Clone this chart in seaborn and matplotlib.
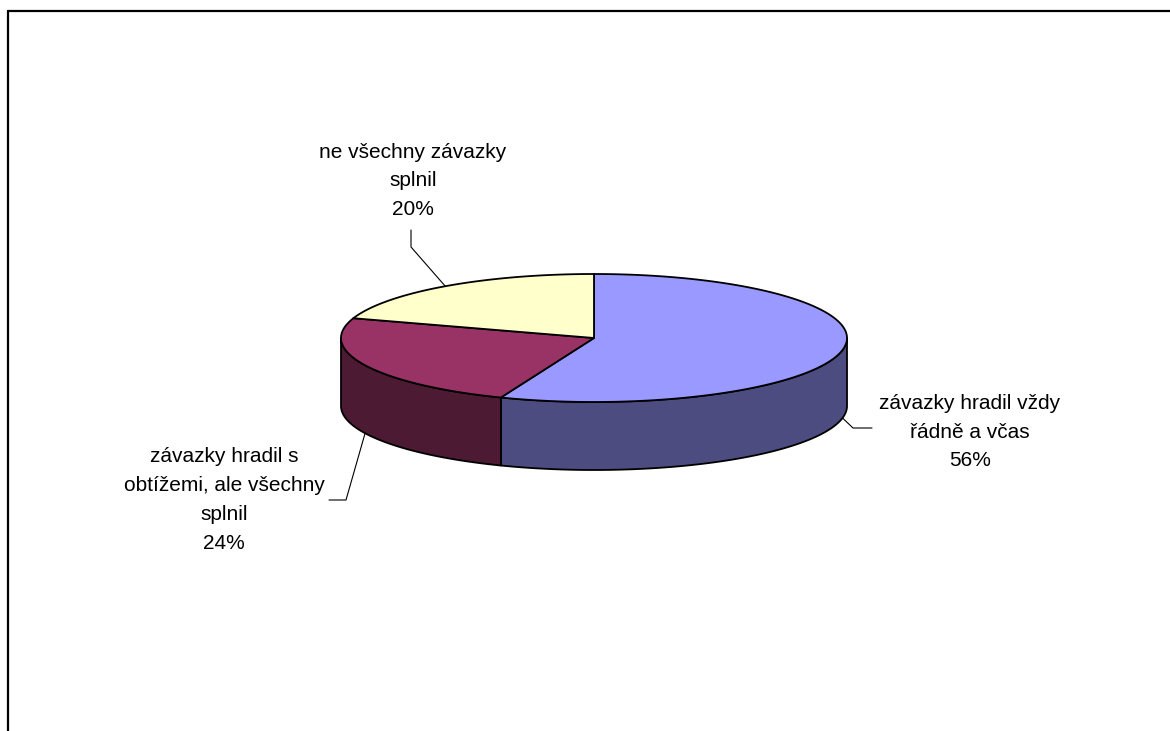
import numpy as np
import matplotlib
matplotlib.use("Agg")
import matplotlib.pyplot as plt
import seaborn as sns
from matplotlib.patches import Polygon
from matplotlib.lines import Line2D

# ---- data ----
categories = ["závazky hradil vždy\nřádně a včas",
              "závazky hradil s\nobtížemi, ale všechny\nsplnil",
              "ne všechny závazky\nsplnil"]
values = [56, 24, 20]
top_colors = ["#9999FF", "#993366", "#FFFFCC"]
side_colors = ["#4C4C80", "#4D1A33", "#80806A"]

# ---- layout ----
sns.set_theme(style="white")
plt.rcParams['font.family'] = ['Liberation Sans', 'DejaVu Sans']

W, H = 1170, 731
fig = plt.figure(figsize=(W / 100, H / 100), dpi=100)
ax = fig.add_axes([0, 0, 1, 1])
ax.set_xlim(0, W)
ax.set_ylim(H, 0)
ax.axis('off')

cx, cy, a, b, depth = 594, 338, 253, 64, 68
lw = 1.3

fr = np.array(values, dtype=float) / sum(values)
ends = 90 - 360 * np.cumsum(fr)
starts = ends + 360 * fr


def ell(t, dy=0.0):
    tr = np.deg2rad(t)
    return cx + a * np.cos(tr), cy - b * np.sin(tr) + dy


# side walls (front half: angles in [-180, 0] modulo 360)
for s, e, col in zip(starts, ends, side_colors):
    for off in (-360, 0, 360):
        lo = max(e, -180 + off)
        hi = min(s, 0 + off)
        if hi > lo:
            t = np.linspace(lo, hi, 200)
            xs, ys = ell(t)
            xb, yb = ell(t[::-1], depth)
            poly = np.column_stack([np.r_[xs, xb], np.r_[ys, yb]])
            ax.add_patch(Polygon(poly, closed=True, facecolor=col,
                                 edgecolor='black', lw=lw, joinstyle='round'))

# top faces
for s, e, col in zip(starts, ends, top_colors):
    t = np.linspace(e, s, 300)
    xs, ys = ell(t)
    poly = np.column_stack([np.r_[cx, xs], np.r_[cy, ys]])
    ax.add_patch(Polygon(poly, closed=True, facecolor=col,
                         edgecolor='black', lw=lw, joinstyle='round'))

# labels and leader lines
label_pos = [(970, 432), (224, 500), (413, 181)]
elbows = [[(853, 428), (872, 428)],
          [(346, 500), (329, 500)],
          [(411, 247), (411, 230)]]
for s, e, cat, v, (lx, ly), el in zip(starts, ends, categories, values,
                                       label_pos, elbows):
    mid = (s + e) / 2
    front = np.sin(np.deg2rad(mid)) < 0
    ax_, ay_ = ell(mid, depth if front else 0)
    xs = [ax_] + [p[0] for p in el]
    ys = [ay_] + [p[1] for p in el]
    ax.plot(xs, ys, color='black', lw=0.8)
    ax.text(lx, ly, f"{cat}\n{v}%", ha='center', va='center',
            fontsize=15, linespacing=1.66, color='black')

# chart-area border (top and left only visible)
fig.add_artist(Line2D([8 / W, 1], [1 - 11 / H, 1 - 11 / H],
                      transform=fig.transFigure, color='black', lw=1.6))
fig.add_artist(Line2D([8 / W, 8 / W], [0, 1 - 11 / H],
                      transform=fig.transFigure, color='black', lw=1.6))

fig.savefig("out.png", dpi=100, facecolor='white')
